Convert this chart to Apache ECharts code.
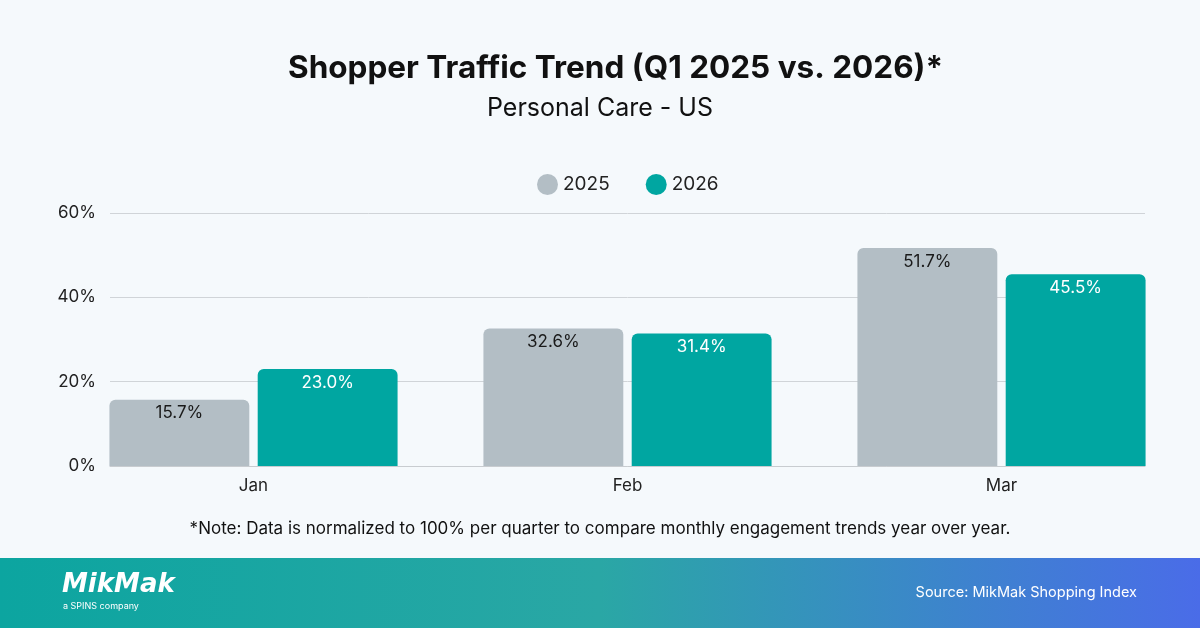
<!DOCTYPE html>
<html><head><meta charset="utf-8">
<script src="https://cdn.jsdelivr.net/npm/echarts@6/dist/echarts.min.js"></script>
<style>html,body{margin:0;padding:0;background:#f5f9fc}#c{width:1200px;height:628px}</style>
</head><body><div id="c"></div>
<script>
const categories = ['Jan','Feb','Mar'];
const values2025 = [15.7, 32.6, 51.7];
const values2026 = [23.0, 31.4, 45.5];
const yTicks = [0,20,40,60];
const font = 'Inter';
const chart = echarts.init(document.getElementById('c'));
const lbl = (color) => ({show:true, position:'insideTop', distance:5, color, fontFamily:font, fontSize:17, formatter:p=>p.value.toFixed(1)+'%'});
chart.setOption({
  backgroundColor:'#f5f9fc',
  textStyle:{fontFamily:font},
  title:[
    {text:'Shopper Traffic Trend (Q1 2025 vs. 2026)*', left:283, top:48, textStyle:{fontFamily:font, fontSize:31.5, fontWeight:'bold', color:'#111'}},
    {text:'Personal Care - US', left:'center', top:91, textStyle:{fontFamily:font, fontSize:25, fontWeight:'normal', color:'#111'}},
    {text:'*Note: Data is normalized to 100% per quarter to compare monthly engagement trends year over year.', left:'center', top:515, textStyle:{fontFamily:font, fontSize:17, fontWeight:'normal', color:'#111'}}
  ],
  legend:{top:169, left:532, icon:'circle', itemWidth:21, itemHeight:21, itemGap:36, textStyle:{fontFamily:font, fontSize:19, color:'#222'}, data:['2025','2026']},
  grid:[{left:66.5, right:11.5, top:213, bottom:162},{left:110, right:55, top:213, bottom:162}],
  xAxis:[
    {type:'category', gridIndex:0, data:categories, axisTick:{show:false}, axisLine:{show:false}, axisLabel:{color:'#222', fontSize:17, fontFamily:font, margin:11}},
    {type:'category', gridIndex:1, data:categories, axisTick:{show:false}, axisLine:{lineStyle:{color:'#c8ccd0'}}, axisLabel:{show:false}}
  ],
  yAxis:[
    {type:'value', gridIndex:0, min:0, max:60, interval:20, axisLabel:{show:false}, splitLine:{show:false}},
    {type:'value', gridIndex:1, min:0, max:60, interval:20, axisLabel:{formatter:'{value}%', color:'#222', fontSize:17, fontFamily:font, margin:14}, splitLine:{lineStyle:{color:'#d0d4d8'}}}
  ],
  series:[
    {name:'2025', type:'bar', z:3, data:values2025, barWidth:'37.4%', barGap:'6%', itemStyle:{color:'#b3bec5', borderRadius:[6,6,0,0]}, label:lbl('#1a1a1a')},
    {name:'2026', type:'bar', z:3, data:values2026, barWidth:'37.4%', itemStyle:{color:'#00a6a1', borderRadius:[6,6,0,0]}, label:lbl('#ffffff')}
  ],
  graphic:[
    {type:'rect', left:0, top:558, shape:{width:1200, height:70}, style:{fill:new echarts.graphic.LinearGradient(0,0,1,0,[{offset:0,color:'#0ca5a0'},{offset:0.5,color:'#2aa7a5'},{offset:1,color:'#4a6ce8'}])}},
    {type:'text', left:62, top:572, style:{text:'MikMak', fill:'#fff', font:'italic bold 26px "DejaVu Sans"'}},
    {type:'text', left:63, top:602, style:{text:'a SPINS company', fill:'#fff', font:'9px Inter'}},
    {type:'text', right:63, top:585, style:{text:'Source: MikMak Shopping Index', fill:'#fff', font:'14.5px Inter'}}
  ]
});
</script></body></html>
